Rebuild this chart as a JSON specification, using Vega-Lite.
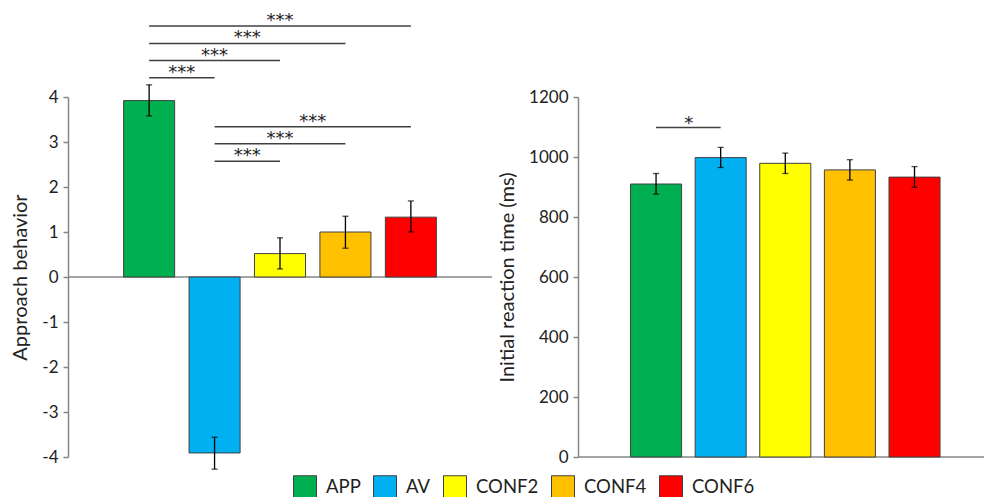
{
  "$schema": "https://vega.github.io/schema/vega-lite/v6.json",
  "padding": {"left": 10, "top": 11, "right": 0, "bottom": 0},
  "spacing": 4,
  "datasets": {
    "approach": [
      {"cond": "APP", "mean": 3.92, "lo": 3.58, "hi": 4.27},
      {"cond": "AV", "mean": -3.91, "lo": -4.27, "hi": -3.56},
      {"cond": "CONF2", "mean": 0.52, "lo": 0.18, "hi": 0.87},
      {"cond": "CONF4", "mean": 1.0, "lo": 0.64, "hi": 1.35},
      {"cond": "CONF6", "mean": 1.33, "lo": 1.0, "hi": 1.69}
    ],
    "rt": [
      {"cond": "APP", "mean": 910, "lo": 876, "hi": 945},
      {"cond": "AV", "mean": 998, "lo": 965, "hi": 1032},
      {"cond": "CONF2", "mean": 979, "lo": 945, "hi": 1013},
      {"cond": "CONF4", "mean": 957, "lo": 923, "hi": 991},
      {"cond": "CONF6", "mean": 933, "lo": 899, "hi": 968}
    ],
    "sigL": [
      {"from": "APP", "to": "AV", "y": 4.43, "mid": "APP", "odd": true, "label": "***"},
      {"from": "APP", "to": "CONF2", "y": 4.81, "mid": "AV", "odd": false, "label": "***"},
      {"from": "APP", "to": "CONF4", "y": 5.19, "mid": "AV", "odd": true, "label": "***"},
      {"from": "APP", "to": "CONF6", "y": 5.58, "mid": "CONF2", "odd": false, "label": "***"},
      {"from": "AV", "to": "CONF2", "y": 2.57, "mid": "AV", "odd": true, "label": "***"},
      {"from": "AV", "to": "CONF4", "y": 2.96, "mid": "CONF2", "odd": false, "label": "***"},
      {"from": "AV", "to": "CONF6", "y": 3.34, "mid": "CONF2", "odd": true, "label": "***"}
    ],
    "sigR": [
      {"from": "APP", "to": "AV", "y": 1098, "mid": "APP", "label": "*"}
    ]
  },
  "resolve": {"scale": {"x": "independent", "y": "independent", "color": "shared"}},
  "hconcat": [
    {
      "width": 424,
      "height": 360,
      "layer": [
        {
          "data": {"values": [{}]},
          "mark": {"type": "rule", "color": "#868686", "strokeWidth": 1.5},
          "encoding": {"y": {"datum": 0, "type": "quantitative"}}
        },
        {
          "data": {"name": "approach"},
          "mark": {"type": "bar", "stroke": "#404040", "strokeWidth": 1},
          "encoding": {
            "x": {"field": "cond", "type": "nominal", "axis": null,
                  "scale": {"domain": ["APP", "AV", "CONF2", "CONF4", "CONF6"], "paddingInner": 0.22, "paddingOuter": 0.85}},
            "y": {"field": "mean", "type": "quantitative",
                  "scale": {"domain": [-4, 4], "nice": false},
                  "axis": {"title": "Approach behavior", "values": [-4, -3, -2, -1, 0, 1, 2, 3, 4], "labelExpr": "toString(datum.value)"}},
            "color": {"field": "cond", "type": "nominal",
                      "scale": {"domain": ["APP", "AV", "CONF2", "CONF4", "CONF6"], "range": ["#00b050", "#00b0f0", "#ffff00", "#ffc000", "#ff0000"]},
                      "legend": {"title": " ", "titleOrient": "left", "titleFontSize": 1, "titlePadding": 225, "orient": "bottom", "direction": "horizontal", "offset": 5}}
          }
        },
        {
          "data": {"name": "approach"},
          "mark": {"type": "rule", "color": "#000000", "strokeWidth": 1.3},
          "encoding": {
            "x": {"field": "cond", "type": "nominal"},
            "y": {"field": "lo", "type": "quantitative"},
            "y2": {"field": "hi"}
          }
        },
        {
          "data": {"name": "approach"},
          "mark": {"type": "tick", "color": "#000000", "size": 6, "thickness": 1.3, "orient": "horizontal"},
          "encoding": {
            "x": {"field": "cond", "type": "nominal"},
            "y": {"field": "lo", "type": "quantitative"}
          }
        },
        {
          "data": {"name": "approach"},
          "mark": {"type": "tick", "color": "#000000", "size": 6, "thickness": 1.3, "orient": "horizontal"},
          "encoding": {
            "x": {"field": "cond", "type": "nominal"},
            "y": {"field": "hi", "type": "quantitative"}
          }
        },
        {
          "data": {"name": "sigL"},
          "mark": {"type": "rule", "color": "#404040", "strokeWidth": 1.5},
          "encoding": {
            "x": {"field": "from", "type": "nominal"},
            "x2": {"field": "to"},
            "y": {"field": "y", "type": "quantitative"}
          }
        },
        {
          "data": {"name": "sigL"},
          "transform": [{"filter": "!datum.odd"}],
          "mark": {"type": "text", "font": "DejaVu Sans", "fontSize": 18, "color": "#222222", "baseline": "alphabetic", "dy": 0},
          "encoding": {
            "x": {"field": "mid", "type": "nominal"},
            "y": {"field": "y", "type": "quantitative"},
            "text": {"field": "label"}
          }
        },
        {
          "data": {"name": "sigL"},
          "transform": [{"filter": "datum.odd"}],
          "mark": {"type": "text", "font": "DejaVu Sans", "fontSize": 18, "color": "#222222", "baseline": "alphabetic", "dy": 0},
          "encoding": {
            "x": {"field": "mid", "type": "nominal", "bandPosition": 1.14},
            "y": {"field": "y", "type": "quantitative"},
            "text": {"field": "label"}
          }
        }
      ]
    },
    {
      "width": 409,
      "height": 360,
      "layer": [
        {
          "data": {"values": [{}]},
          "mark": {"type": "rule", "color": "#868686", "strokeWidth": 1.5},
          "encoding": {"y": {"datum": 0, "type": "quantitative"}}
        },
        {
          "data": {"name": "rt"},
          "mark": {"type": "bar", "stroke": "#404040", "strokeWidth": 1},
          "encoding": {
            "x": {"field": "cond", "type": "nominal", "axis": null,
                  "scale": {"domain": ["APP", "AV", "CONF2", "CONF4", "CONF6"], "paddingInner": 0.21, "paddingOuter": 0.77, "align": 0.528}},
            "y": {"field": "mean", "type": "quantitative",
                  "scale": {"domain": [0, 1200], "nice": false},
                  "axis": {"title": "Initial reaction time (ms)", "values": [0, 200, 400, 600, 800, 1000, 1200], "labelExpr": "toString(datum.value)"}},
            "color": {"field": "cond", "type": "nominal"}
          }
        },
        {
          "data": {"name": "rt"},
          "mark": {"type": "rule", "color": "#000000", "strokeWidth": 1.3},
          "encoding": {
            "x": {"field": "cond", "type": "nominal"},
            "y": {"field": "lo", "type": "quantitative"},
            "y2": {"field": "hi"}
          }
        },
        {
          "data": {"name": "rt"},
          "mark": {"type": "tick", "color": "#000000", "size": 6, "thickness": 1.3, "orient": "horizontal"},
          "encoding": {
            "x": {"field": "cond", "type": "nominal"},
            "y": {"field": "lo", "type": "quantitative"}
          }
        },
        {
          "data": {"name": "rt"},
          "mark": {"type": "tick", "color": "#000000", "size": 6, "thickness": 1.3, "orient": "horizontal"},
          "encoding": {
            "x": {"field": "cond", "type": "nominal"},
            "y": {"field": "hi", "type": "quantitative"}
          }
        },
        {
          "data": {"name": "sigR"},
          "mark": {"type": "rule", "color": "#404040", "strokeWidth": 1.5},
          "encoding": {
            "x": {"field": "from", "type": "nominal"},
            "x2": {"field": "to"},
            "y": {"field": "y", "type": "quantitative"}
          }
        },
        {
          "data": {"name": "sigR"},
          "mark": {"type": "text", "font": "DejaVu Sans", "fontSize": 18, "color": "#222222", "baseline": "alphabetic", "dy": 1},
          "encoding": {
            "x": {"field": "mid", "type": "nominal", "bandPosition": 1.14},
            "y": {"field": "y", "type": "quantitative"},
            "text": {"field": "label"}
          }
        }
      ]
    }
  ],
  "config": {
    "font": "Lato",
    "view": {"stroke": null},
    "axis": {
      "labelFontSize": 17, "labelColor": "#222222", "labelFont": "Lato",
      "titleFontSize": 20, "titleFontWeight": "normal", "titleColor": "#222222", "titleFont": "Lato",
      "domainColor": "#868686", "tickColor": "#868686", "domainWidth": 1.5, "tickWidth": 1.5,
      "tickSize": 5, "labelPadding": 5, "titlePadding": 11, "grid": false
    },
    "legend": {
      "symbolType": "square", "symbolSize": 529, "symbolStrokeColor": "#404040", "symbolStrokeWidth": 1,
      "symbolOpacity": 1, "labelFontSize": 18.5, "labelFont": "Lato", "labelColor": "#222222",
      "labelOffset": 9, "columnPadding": 10
    }
  }
}
